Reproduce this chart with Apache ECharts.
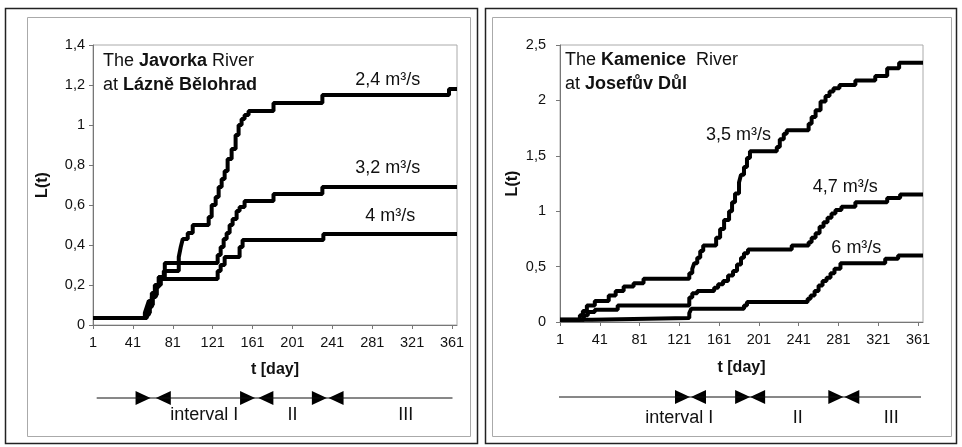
<!DOCTYPE html>
<html><head><meta charset="utf-8">
<script src="https://cdn.jsdelivr.net/npm/echarts@6/dist/echarts.min.js"></script>
<style>html,body{margin:0;padding:0;background:#fff}#c{width:962px;height:447px}</style>
</head><body><div id="c"></div>
<script>
// ---------- data ----------
const xTicks = [1, 41, 81, 121, 161, 201, 241, 281, 321, 361];
const dayMin = 1, dayMax = 366;

// Javorka River at Lázně Bělohrad
const jav24Days = [1, 53, 55, 57, 60, 63, 67, 72, 87, 89, 91, 96, 101, 117, 120, 124, 127, 130, 133, 136, 140, 144, 147, 150, 153, 157, 182, 231, 358, 366];
const jav24Vals = [0.035, 0.06, 0.09, 0.12, 0.16, 0.2, 0.24, 0.27, 0.34, 0.39, 0.43, 0.46, 0.5, 0.54, 0.6, 0.64, 0.69, 0.73, 0.77, 0.83, 0.88, 0.95, 1.0, 1.03, 1.05, 1.07, 1.11, 1.15, 1.18, 1.18];
const jav32Days = [1, 54, 57, 60, 64, 67, 73, 126, 129, 132, 135, 138, 141, 145, 148, 153, 182, 231, 366];
const jav32Vals = [0.035, 0.05, 0.09, 0.14, 0.19, 0.24, 0.31, 0.35, 0.39, 0.43, 0.46, 0.5, 0.53, 0.57, 0.59, 0.62, 0.655, 0.69, 0.69];
const jav4Days = [1, 55, 58, 61, 65, 69, 126, 129, 133, 148, 151, 232, 366];
const jav4Vals = [0.035, 0.06, 0.1, 0.15, 0.2, 0.23, 0.27, 0.3, 0.34, 0.39, 0.425, 0.455, 0.455];

// Kamenice River at Josefův Důl
const kam35Days = [1, 21, 24, 28, 36, 50, 57, 65, 75, 85, 131, 134, 136, 139, 142, 145, 158, 162, 166, 171, 174, 177, 181, 183, 186, 189, 192, 219, 222, 226, 229, 251, 254, 258, 263, 268, 272, 276, 282, 298, 318, 330, 342, 366];
const kam35Vals = [0.02, 0.06, 0.1, 0.15, 0.19, 0.24, 0.28, 0.32, 0.35, 0.39, 0.44, 0.48, 0.53, 0.58, 0.64, 0.69, 0.76, 0.84, 0.92, 1.0, 1.08, 1.16, 1.26, 1.33, 1.4, 1.48, 1.54, 1.58, 1.65, 1.7, 1.73, 1.79, 1.85, 1.91, 1.99, 2.04, 2.08, 2.11, 2.14, 2.18, 2.22, 2.29, 2.34, 2.34];
const kam47Days = [1, 25, 29, 36, 59, 131, 134, 139, 156, 160, 165, 170, 175, 179, 183, 186, 190, 234, 251, 254, 258, 262, 266, 270, 274, 278, 284, 298, 330, 343, 366];
const kam47Vals = [0.02, 0.06, 0.09, 0.11, 0.15, 0.22, 0.26, 0.28, 0.31, 0.34, 0.37, 0.42, 0.46, 0.52, 0.58, 0.62, 0.655, 0.69, 0.72, 0.76, 0.8, 0.86, 0.9, 0.94, 0.98, 1.01, 1.04, 1.08, 1.12, 1.15, 1.15];
const kam6Days = [1, 33, 131, 133, 186, 189, 250, 253, 257, 261, 265, 269, 273, 277, 283, 328, 341, 366];
const kam6Vals = [0.02, 0.035, 0.08, 0.12, 0.15, 0.18, 0.21, 0.24, 0.28, 0.33, 0.37, 0.4, 0.44, 0.48, 0.53, 0.57, 0.6, 0.6];

// flow labels (text) and their anchor in data coordinates [day, L]
const flowLabelsLeft = ['2,4 m³/s', '3,2 m³/s', '4 m³/s'];
const flowAnchorLeft = [[296.6, 1.225], [296.6, 0.786], [299, 0.546]];
const flowLabelsRight = ['3,5 m³/s', '4,7 m³/s', '6 m³/s'];
const flowAnchorRight = [[180.4, 1.688], [287.8, 1.218], [299, 0.668]];

// interval bar under each panel (days)
const intervalNames = ['interval I', 'II', 'III'];
const leftArrowLine = [4.7, 361.5];
const leftTipRight = [58.7, 163.5, 235.5];   // ▶ tips
const leftTipLeft = [64, 166.8, 237.2];      // ◀ tips
const leftIntervalLabelDays = [112.5, 201, 314.6];
const rightArrowLine = [-2, 364];
const rightTipRight = [131.7, 192.2, 285.9];
const rightTipLeft = [132.7, 192.2, 286.9];
const rightIntervalLabelDays = [121, 240, 334];

// ---------- chart ----------
const FONT = 'Liberation Sans, Arial, sans-serif';
const pairs = (d, v) => d.map((x, i) => [x, v[i]]);
const fmtY = v => String(Math.round(v * 10) / 10).replace('.', ',');

function plotX(grid, gap) {
  return {
    gridIndex: grid, type: 'value', min: dayMin, max: dayMax,
    axisLine: {show: true, lineStyle: {color: '#777', width: 1}},
    axisTick: {show: true, length: 4, customValues: xTicks, lineStyle: {color: '#777'}},
    axisLabel: {customValues: xTicks, color: '#111', fontSize: 14.5, fontFamily: FONT, margin: 10},
    splitLine: {show: false},
    name: 't [day]', nameLocation: 'middle', nameGap: gap,
    nameTextStyle: {fontSize: 16, fontWeight: 'bold', color: '#111', fontFamily: FONT}
  };
}
function plotY(grid, max, interval, gap, margin) {
  return {
    gridIndex: grid, type: 'value', min: 0, max: max, interval: interval,
    axisLine: {show: true, lineStyle: {color: '#777', width: 1}},
    axisTick: {show: true, length: 4, lineStyle: {color: '#777'}},
    axisLabel: {formatter: fmtY, color: '#111', fontSize: 14.5, fontFamily: FONT, margin: margin},
    splitLine: {show: false},
    name: 'L(t)', nameLocation: 'middle', nameGap: gap, nameRotate: 90,
    nameTextStyle: {fontSize: 16, fontWeight: 'bold', color: '#111', fontFamily: FONT}
  };
}
const hiddenX = g => ({gridIndex: g, type: 'value', min: dayMin, max: dayMax, show: false});
const hiddenY = g => ({gridIndex: g, type: 'value', min: -1, max: 1, show: false});

function stepLine(xi, days, vals) {
  return {
    type: 'line', xAxisIndex: xi, yAxisIndex: xi, step: 'end', showSymbol: false,
    data: pairs(days, vals), lineStyle: {color: '#000', width: 4}, z: 3, silent: true
  };
}
function labelSeries(xi, names, anchors, offY, size) {
  return {
    type: 'scatter', xAxisIndex: xi, yAxisIndex: xi, symbolSize: 0, silent: true, clip: false,
    itemStyle: {opacity: 1},
    data: names.map((n, i) => ({name: n, value: anchors[i]})),
    label: {show: true, position: 'inside', offset: [0, offY || 0], formatter: p => p.name,
            color: '#111', fontSize: size, fontFamily: FONT}
  };
}
function arrowSeries(xi, line, tipsR, tipsL, labelDays, offY) {
  return [
    {type: 'line', xAxisIndex: xi, yAxisIndex: xi, clip: false, showSymbol: false, silent: true,
     data: line.map(d => [d, 0]), lineStyle: {color: '#111', width: 1}},
    {type: 'scatter', xAxisIndex: xi, yAxisIndex: xi, clip: false, silent: true,
     symbol: 'path://M0 0L10 5L0 10Z', symbolSize: [15, 14], symbolOffset: [-7.5, 0],
     itemStyle: {color: '#000', opacity: 1}, data: tipsR.map(d => [d, 0])},
    {type: 'scatter', xAxisIndex: xi, yAxisIndex: xi, clip: false, silent: true,
     symbol: 'path://M10 0L0 5L10 10Z', symbolSize: [15, 14], symbolOffset: [7.5, 0],
     itemStyle: {color: '#000', opacity: 1}, data: tipsL.map(d => [d, 0])},
    labelSeries(xi, intervalNames, labelDays.map(d => [d, 0]), offY, 18)
  ];
}

const titleStyle = {
  fontSize: 18, fontWeight: 'normal', lineHeight: 24, color: '#111', fontFamily: FONT,
  rich: {b: {fontSize: 18, fontWeight: 'bold', lineHeight: 24, color: '#111', fontFamily: FONT}}
};

const chart = echarts.init(document.getElementById('c'));
chart.setOption({
  backgroundColor: '#fff',
  animation: false,
  title: [
    {text: 'The {b|Javorka} River\nat {b|Lázně Bělohrad}', left: 103, top: 49, padding: 0, textStyle: titleStyle},
    {text: 'The {b|Kamenice}  River\nat {b|Josefův Důl}', left: 565, top: 48, padding: 0, textStyle: titleStyle}
  ],
  graphic: [
    {type: 'rect', shape: {x: 5.5, y: 8.5, width: 472, height: 435}, style: {fill: 'none', stroke: '#222', lineWidth: 1.5}, silent: true},
    {type: 'rect', shape: {x: 485.5, y: 8.5, width: 471, height: 435}, style: {fill: 'none', stroke: '#222', lineWidth: 1.5}, silent: true},
    {type: 'rect', shape: {x: 27.5, y: 17.5, width: 443, height: 419}, style: {fill: 'none', stroke: '#aaa', lineWidth: 1}, silent: true},
    {type: 'rect', shape: {x: 492.5, y: 17.5, width: 459, height: 419}, style: {fill: 'none', stroke: '#aaa', lineWidth: 1}, silent: true}
  ],
  grid: [
    {left: 93, top: 45, width: 364, height: 280, show: true, borderColor: '#aaa', borderWidth: 1, backgroundColor: 'transparent'},
    {left: 560, top: 45, width: 363, height: 277, show: true, borderColor: '#aaa', borderWidth: 1, backgroundColor: 'transparent'},
    {left: 93, top: 390, width: 364, height: 16},
    {left: 560, top: 389, width: 363, height: 16}
  ],
  xAxis: [plotX(0, 37), plotX(1, 38), hiddenX(2), hiddenX(3)],
  yAxis: [plotY(0, 1.4, 0.2, 42, 8), plotY(1, 2.5, 0.5, 39, 14), hiddenY(2), hiddenY(3)],
  series: [
    stepLine(0, jav24Days, jav24Vals),
    stepLine(0, jav32Days, jav32Vals),
    stepLine(0, jav4Days, jav4Vals),
    stepLine(1, kam35Days, kam35Vals),
    stepLine(1, kam47Days, kam47Vals),
    stepLine(1, kam6Days, kam6Vals),
    labelSeries(0, flowLabelsLeft, flowAnchorLeft, 0, 18),
    labelSeries(1, flowLabelsRight, flowAnchorRight, 0, 18),
    ...arrowSeries(2, leftArrowLine, leftTipRight, leftTipLeft, leftIntervalLabelDays, 17),
    ...arrowSeries(3, rightArrowLine, rightTipRight, rightTipLeft, rightIntervalLabelDays, 21)
  ]
});
</script></body></html>
